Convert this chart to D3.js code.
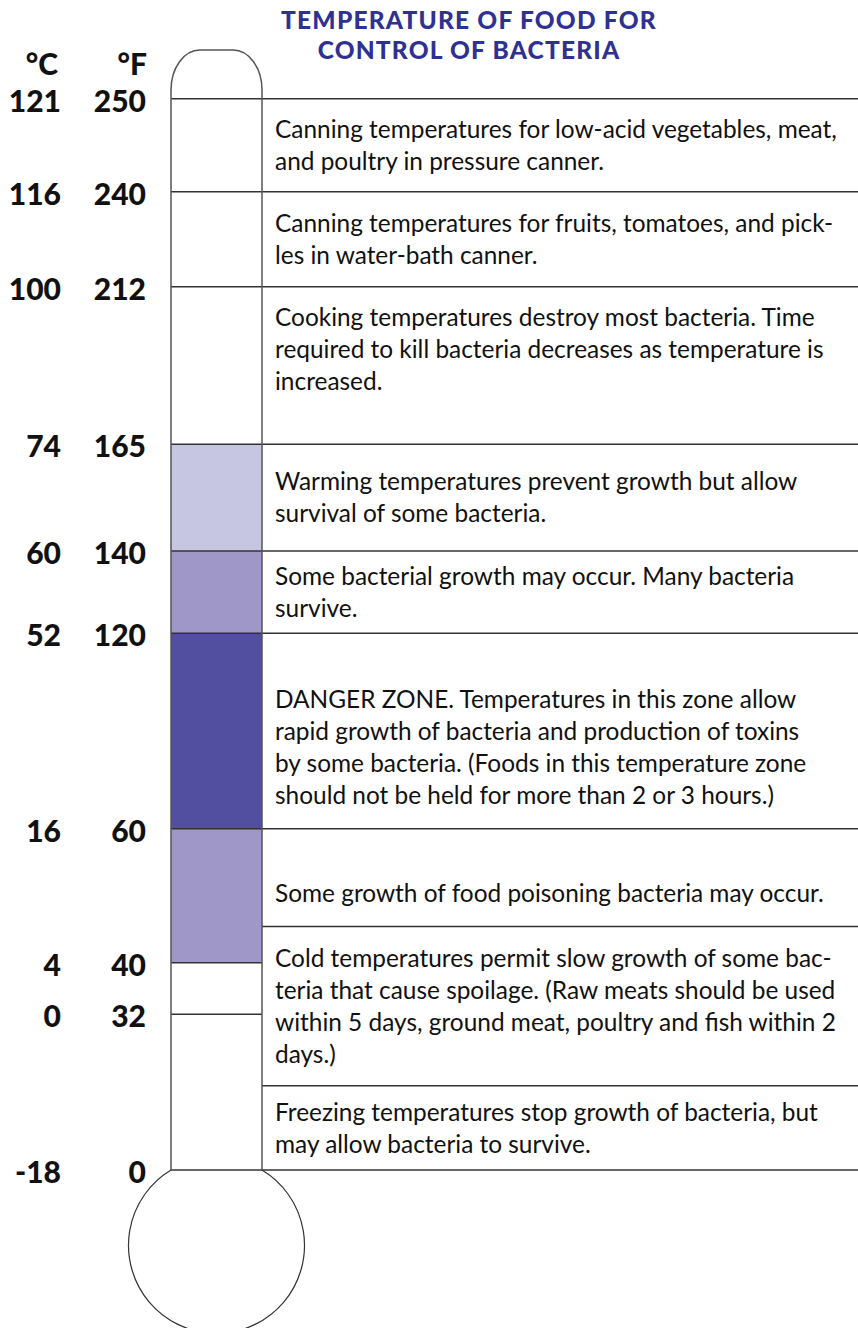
<!DOCTYPE html>
<html>
<head>
<meta charset="utf-8">
<script src="https://cdn.jsdelivr.net/npm/d3@7"></script>
<style>
  body { margin: 0; background: #fff; }
</style>
</head>
<body>
<div id="chart"></div>
<script>
// tick temperatures on the thermometer
const tempsF = [250, 240, 212, 165, 140, 120, 60, 40, 32, 0]
const tempsC = [121, 116, 100, 74, 60, 52, 16, 4, 0, -18]

// coloured zones inside the tube (in °F)
const zoneTop = [165, 140, 120, 60]
const zoneBottom = [140, 120, 60, 40]
const zoneColor = ["#c6c5e2", "#9e97c8", "#524fa0", "#9e97c8"]

// rows of the text panel, top / bottom in °F
const rowTop = [250, 240, 212, 165, 140, 120, 60, 45.4, 17.3]
const rowBottom = [240, 212, 165, 140, 120, 60, 45.4, 17.3, 0]
const rowText = [
  ["Canning temperatures for low-acid vegetables, meat,", "and poultry in pressure canner."],
  ["Canning temperatures for fruits, tomatoes, and pick-", "les in water-bath canner."],
  ["Cooking temperatures destroy most bacteria. Time", "required to kill bacteria decreases as temperature is", "increased.", ""],
  ["Warming temperatures prevent growth but allow", "survival of some bacteria."],
  ["Some bacterial growth may occur. Many bacteria", "survive."],
  ["", "DANGER ZONE. Temperatures in this zone allow", "rapid growth of bacteria and production of toxins", "by some bacteria. (Foods in this temperature zone", "should not be held for more than 2 or 3 hours.)"],
  ["", "Some growth of food poisoning bacteria may occur."],
  ["Cold temperatures permit slow growth of some bac-", "teria that cause spoilage. (Raw meats should be used", "within 5 days, ground meat, poultry and fish within 2", "days.)"],
  ["Freezing temperatures stop growth of bacteria, but", "may allow bacteria to survive."]
]

const titleLines = ["TEMPERATURE OF FOOD FOR", "CONTROL OF BACTERIA"]
const unitLabels = ["°C", "°F"]

// layout
const width = 858
const height = 1328
const tubeLeft = 171
const tubeRight = 262
const tubeTop = 50
const lineGap = 32
const bodyFont = "Lato, 'Open Sans', sans-serif"

// the scale on the printed thermometer is not linear, so map tick by tick
const y = d3.scaleLinear()
  .domain(tempsF)
  .range([98.7, 191.7, 286.7, 444.3, 551, 633.3, 828.7, 962.7, 1014.3, 1170])

var svg = d3.select("#chart")
  .append("svg")
  .attr("width", width)
  .attr("height", height)
  .style("display", "block")

svg.append("rect")
  .attr("width", width)
  .attr("height", height)
  .attr("fill", "#fff")

// title
svg.append("g")
  .attr("font-family", bodyFont)
  .attr("font-weight", 900)
  .attr("font-size", 24.5)
  .attr("letter-spacing", 1.2)
  .attr("fill", "#2e3192")
  .attr("text-anchor", "middle")
  .selectAll("text")
  .data(titleLines)
  .enter().append("text")
  .attr("x", 469)
  .attr("y", (d, i) => 29 + i * 30)
  .text(d => d)

// zone fills
const zones = zoneTop.map((t, i) => ({ top: t, bottom: zoneBottom[i], color: zoneColor[i] }))
svg.selectAll(".zone")
  .data(zones)
  .enter().append("rect")
  .attr("class", "zone")
  .attr("x", tubeLeft)
  .attr("y", d => y(d.top))
  .attr("width", tubeRight - tubeLeft)
  .attr("height", d => y(d.bottom) - y(d.top))
  .attr("fill", d => d.color)

// tick lines across the tube
svg.selectAll(".tick-line")
  .data(tempsF)
  .enter().append("line")
  .attr("class", "tick-line")
  .attr("x1", tubeLeft)
  .attr("x2", tubeRight)
  .attr("y1", d => y(d))
  .attr("y2", d => y(d))
  .attr("stroke", "#333")
  .attr("stroke-width", 1.4)

// row lines of the text panel
const rowEdges = rowTop.concat([rowBottom[rowBottom.length - 1]])
svg.selectAll(".row-line")
  .data(rowEdges)
  .enter().append("line")
  .attr("class", "row-line")
  .attr("x1", tubeRight)
  .attr("x2", width)
  .attr("y1", d => y(d))
  .attr("y2", d => y(d))
  .attr("stroke", "#333")
  .attr("stroke-width", 1.4)

// tube outline with rounded top
const yBottom = y(0)
const rx = 29, ry = 40
svg.append("path")
  .attr("d", `M${tubeLeft},${yBottom} V${tubeTop + ry} A${rx},${ry} 0 0 1 ${tubeLeft + rx},${tubeTop}` +
    ` H${tubeRight - rx} A${rx},${ry} 0 0 1 ${tubeRight},${tubeTop + ry} V${yBottom}`)
  .attr("fill", "none")
  .attr("stroke", "#555")
  .attr("stroke-width", 1.5)

// bulb
const bulbR = 88
svg.append("path")
  .attr("d", `M${tubeLeft},${yBottom} A${bulbR},${bulbR} 0 1 0 ${tubeRight},${yBottom}`)
  .attr("fill", "none")
  .attr("stroke", "#333")
  .attr("stroke-width", 1.2)

// scale labels
const labels = svg.append("g")
  .attr("font-family", bodyFont)
  .attr("font-weight", 900)
  .attr("font-size", 30)
  .attr("fill", "#111")
  .attr("text-anchor", "end")

labels.selectAll(".c-label")
  .data(tempsC)
  .enter().append("text")
  .attr("class", "c-label")
  .attr("x", 61)
  .attr("y", (d, i) => y(tempsF[i]) + 13)
  .text(d => d)

labels.selectAll(".f-label")
  .data(tempsF)
  .enter().append("text")
  .attr("class", "f-label")
  .attr("x", 146)
  .attr("y", d => y(d) + 13)
  .text(d => d)

labels.selectAll(".unit")
  .data(unitLabels)
  .enter().append("text")
  .attr("class", "unit")
  .attr("x", (d, i) => i ? 147 : 58)
  .attr("y", 75)
  .text(d => d)

// text panel, font size fitted to the longest line of the original
const probe = svg.append("text")
  .attr("font-family", bodyFont)
  .attr("font-size", 22)
  .text(rowText[0][0])
const bodySize = 22 * 562 / probe.node().getComputedTextLength()
probe.remove()
const capH = bodySize * 0.72

const rows = rowTop.map((t, i) => ({ top: t, bottom: rowBottom[i], lines: rowText[i] }))
const rowG = svg.selectAll(".row")
  .data(rows)
  .enter().append("text")
  .attr("class", "row")
  .attr("font-family", bodyFont)
  .attr("font-size", bodySize)
  .attr("fill", "#111")

rowG.each(function (d) {
  const mid = (y(d.top) + y(d.bottom)) / 2
  const first = mid - ((d.lines.length - 1) * lineGap - capH) / 2
  d3.select(this).selectAll("tspan")
    .data(d.lines)
    .enter().append("tspan")
    .attr("x", tubeRight + 13)
    .attr("y", (l, i) => first + i * lineGap)
    .text(l => l)
})
</script>
</body>
</html>
